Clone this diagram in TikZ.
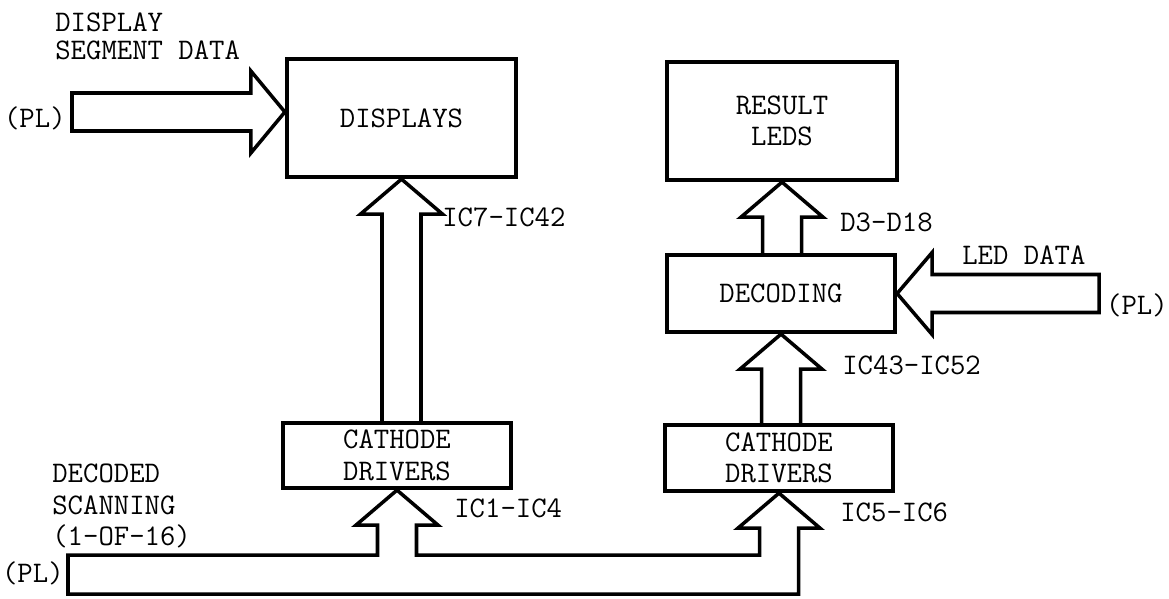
\documentclass[tikz,border=0pt]{standalone}
\usepackage{fontspec}
\usepackage{tikz}
\usetikzlibrary{calc}
\tikzset{
  blk/.style={draw, line width=2.4pt, align=center, inner sep=0pt},
  bus/.style={line width=2pt},
  lbl/.style={anchor=west, inner sep=0pt, align=left},
}
% hollow upward bus arrow: tip at #1, tail ends on the level of #2
\newcommand{\fatup}[2]{%
  \coordinate (fl) at ($(#1)+(-19.5,35)$);
  \coordinate (fr) at ($(#1)+(19.5,35)$);
  \draw[bus] (fl |- #2) -- (fl) -- ++(-21.5,0) -- (#1) -- ++(41,35) -- ++(-21.5,0) -- (fr |- #2);
}

\begin{document}
\begin{tikzpicture}[x=0.2mm, y=-0.2mm, font=\ttfamily\fontsize{17}{18}\selectfont]
  \useasboundingbox (0,0) rectangle (1169,598);
  % blocks
  \node[blk, minimum width=45.8mm, minimum height=23.6mm] (disp) at (401.5,118) {DISPLAYS};
  \node[blk, minimum width=46mm, minimum height=23.6mm] (res) at (782,121) {RESULT\\LEDS};
  \node[blk, minimum width=45.6mm, minimum height=15.4mm] (dec) at (781,293.5) {DECODING};
  \node[blk, minimum width=45.6mm, minimum height=13mm] (cd1) at (397,455.5) {CATHODE\\DRIVERS};
  \node[blk, minimum width=45.6mm, minimum height=13.2mm] (cd2) at (779,458) {CATHODE\\DRIVERS};

  % vertical buses
  \fatup{disp.south}{cd1.north}
  \fatup{res.south}{dec.north}
  \fatup{dec.south}{cd2.north}

  % segment data in
  \coordinate (segtip) at ($(disp.west)+(0,-6)$);
  \coordinate (segend) at (segtip -| 72,0);
  \draw[bus] ($(segend)+(0,-19)$) -- ($(segtip)+(-34,-19)$) -- ++(0,-22) -- (segtip)
    -- ++(-34,41) -- ++(0,-22) -- ($(segend)+(0,19)$) -- cycle;

  % led data in
  \coordinate (ledend) at (dec.east -| 1099,0);
  \draw[bus] ($(ledend)+(0,-19)$) -- ($(dec.east)+(35,-19)$) -- ++(0,-22) -- (dec.east)
    -- ++(35,41) -- ++(0,-22) -- ($(ledend)+(0,19)$) -- cycle;

  % scanning bus
  \coordinate (busT) at (68,555);
  \coordinate (busB) at (68,594);
  \coordinate (b1) at ($(cd1.south)+(-19.5,35)$);
  \coordinate (b2) at ($(cd1.south)+(19.5,35)$);
  \coordinate (b3) at ($(cd2.south)+(-19.5,35)$);
  \coordinate (b4) at ($(cd2.south)+(19.5,35)$);
  \draw[bus] (busT) -- (b1 |- busT) -- (b1) -- ++(-21.5,0) -- (cd1.south) -- ++(41,35)
    -- ++(-21.5,0) -- (b2 |- busT) -- (b3 |- busT) -- (b3) -- ++(-21.5,0) -- (cd2.south)
    -- ++(41,35) -- ++(-21.5,0) -- (b4 |- busB) -- (busB) -- cycle;

  % labels
  \node[lbl] (segtxt) at (55,36) {DISPLAY\\[-2pt]SEGMENT DATA};
  \node[lbl, anchor=east] (plA) at (66,118) {(PL)};
  \node[lbl] (scantxt) at (52,506) {DECODED\\SCANNING\\(1-OF-16)};
  \node[lbl, anchor=east] (plB) at (64,573) {(PL)};
  \node[lbl] (ic7) at (442,217) {IC7-IC42};
  \node[lbl] (ic1) at (454,508) {IC1-IC4};
  \node[lbl] (d3) at (840,222) {D3-D18};
  \node[lbl] (ledtxt) at (962,255) {LED DATA};
  \node[lbl, anchor=east] (plC) at (1168,305) {(PL)};
  \node[lbl] (ic43) at (842,365) {IC43-IC52};
  \node[lbl] (ic5) at (840,512) {IC5-IC6};
\end{tikzpicture}
\end{document}
